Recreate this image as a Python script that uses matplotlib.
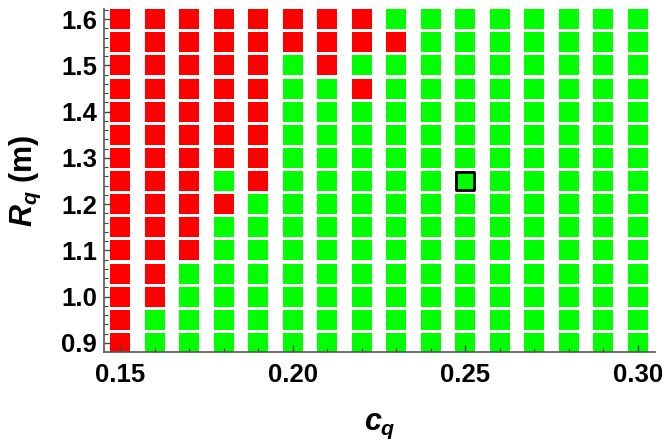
import numpy as np
import matplotlib
matplotlib.use("Agg")
import matplotlib.pyplot as plt
from matplotlib.ticker import MultipleLocator, FormatStrFormatter

# Datos: valores de c_q (columnas) y R_q (filas, de arriba a abajo)
cq = [0.15, 0.16, 0.17, 0.18, 0.19, 0.20, 0.21, 0.22,
      0.23, 0.24, 0.25, 0.26, 0.27, 0.28, 0.29, 0.30]
Rq = [1.60, 1.55, 1.50, 1.45, 1.40, 1.35, 1.30, 1.25,
      1.20, 1.15, 1.10, 1.05, 1.00, 0.95, 0.90]

# R = inestable (rojo), G = estable (verde)
estado = [
    "RRRRRRRRGGGGGGGG",
    "RRRRRRRRRGGGGGGG",
    "RRRRRGRGGGGGGGGG",
    "RRRRRGGRGGGGGGGG",
    "RRRRRGGGGGGGGGGG",
    "RRRRRGGGGGGGGGGG",
    "RRRRRGGGGGGGGGGG",
    "RRRGRGGGGGGGGGGG",
    "RRRRGGGGGGGGGGGG",
    "RRRGGGGGGGGGGGGG",
    "RRRGGGGGGGGGGGGG",
    "RRGGGGGGGGGGGGGG",
    "RRGGGGGGGGGGGGGG",
    "RGGGGGGGGGGGGGGG",
    "RGGGGGGGGGGGGGGG",
]

# Punto seleccionado
sel_cq = 0.25
sel_Rq = 1.25

plt.rcParams["font.family"] = "Liberation Sans"
plt.rcParams["font.weight"] = "bold"
plt.rcParams["mathtext.fontset"] = "custom"
plt.rcParams["mathtext.it"] = "Liberation Sans:italic:bold"
plt.rcParams["mathtext.rm"] = "Liberation Sans:bold"

xs, ys, cs = [], [], []
for i, r in enumerate(Rq):
    for j, c in enumerate(cq):
        xs.append(c)
        ys.append(r)
        cs.append("#ff0000" if estado[i][j] == "R" else "#00ff00")

fig = plt.figure(figsize=(6.64, 4.4), dpi=100)
ax = fig.add_axes([0.1566, 0.2007, 0.8298, 0.7788])

ax.scatter(xs, ys, c=cs, marker="s", s=14.4**2, linewidths=0)
ax.scatter([sel_cq], [sel_Rq], c="#00ff00", marker="s", s=12.6**2,
           edgecolors="black", linewidths=2.0, zorder=3)

ax.set_xlim(0.1453, 0.305)
ax.set_ylim(0.881, 1.622)

ax.xaxis.set_major_locator(MultipleLocator(0.05))
ax.xaxis.set_minor_locator(MultipleLocator(0.01))
ax.yaxis.set_major_locator(MultipleLocator(0.1))
ax.yaxis.set_minor_locator(MultipleLocator(0.02))
ax.xaxis.set_major_formatter(FormatStrFormatter("%.2f"))
ax.yaxis.set_major_formatter(FormatStrFormatter("%.1f"))

ax.tick_params(which="both", direction="in", color="#444444", labelsize=18.5)
ax.tick_params(which="major", length=5, width=1)
ax.tick_params(which="minor", length=3, width=0.8)
ax.tick_params(axis="x", pad=8)
ax.tick_params(axis="y", pad=5)

for s in ["top", "right"]:
    ax.spines[s].set_visible(False)
for s in ["left", "bottom"]:
    ax.spines[s].set_color("#555555")
    ax.spines[s].set_linewidth(1.2)

ax.set_xlabel(r"$c_q$", fontsize=22)
ax.set_ylabel(r"$R_q$ (m)", fontsize=22, fontweight="bold")
ax.xaxis.set_label_coords(0.5, -0.173)
ax.yaxis.set_label_coords(-0.11, 0.5)

plt.savefig("out.png", dpi=100)
